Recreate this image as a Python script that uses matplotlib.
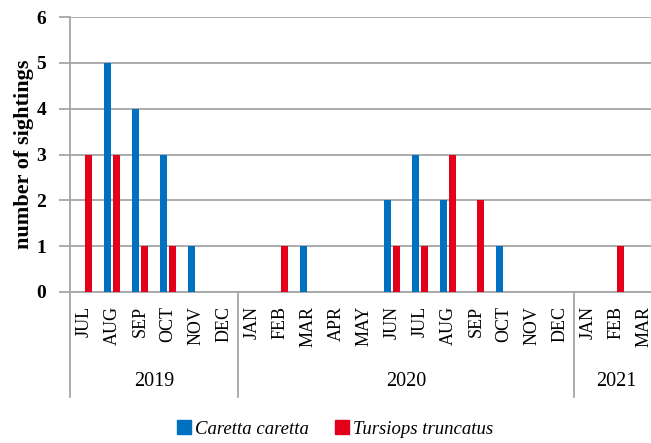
import matplotlib
matplotlib.use("Agg")
import matplotlib.pyplot as plt
import matplotlib.patches as mpatches
import matplotlib.transforms as mtransforms
import numpy as np

MONTHS = ["JUL", "AUG", "SEP", "OCT", "NOV", "DEC",
          "JAN", "FEB", "MAR", "APR", "MAY", "JUN",
          "JUL", "AUG", "SEP", "OCT", "NOV", "DEC",
          "JAN", "FEB", "MAR"]
YEARS = ["2019", "2020", "2021"]
YEAR_SPANS = [(0, 6), (6, 18), (18, 21)]  # month index ranges (start, end)

CARETTA = [0, 5, 4, 3, 1, 0, 0, 0, 1, 0, 0, 2, 3, 2, 0, 1, 0, 0, 0, 0, 0]
TURSIOPS = [3, 3, 1, 1, 0, 0, 0, 1, 0, 0, 0, 1, 1, 3, 2, 0, 0, 0, 0, 1, 0]

BLUE = "#0070C0"
RED = "#E2001A"
GRID = "#a6a6a6"
SERIF = ["Liberation Serif", "DejaVu Serif"]

W, H = 651, 443


def main():
    fig = plt.figure(figsize=(W / 100, H / 100), dpi=100)
    fig.patch.set_facecolor("white")
    # axes runs a little past the right edge, like the cropped original
    ax = fig.add_axes([70 / W, 151 / H, 588 / W, 275 / H])

    x = np.arange(len(MONTHS))
    bw = 0.24
    ax.bar(x - 0.165, CARETTA, bw, color=BLUE, zorder=3)
    ax.bar(x + 0.165, TURSIOPS, bw, color=RED, zorder=3)

    ax.set_xlim(-0.5, len(MONTHS) - 0.5)
    ax.set_ylim(0, 6)
    ax.set_yticks(range(7))
    ax.yaxis.grid(True, color=GRID, linewidth=1.3, zorder=0)
    ax.set_axisbelow(True)

    for side in ("top", "right"):
        ax.spines[side].set_visible(False)
    for side in ("left", "bottom"):
        ax.spines[side].set_color(GRID)
        ax.spines[side].set_linewidth(1.3)

    ax.tick_params(axis="y", length=8, width=1.3, color=GRID, pad=9)
    ax.tick_params(axis="x", length=0, pad=10)
    for lab in ax.get_yticklabels():
        lab.set_fontfamily(SERIF)
        lab.set_fontweight("bold")
        lab.set_fontsize(14)

    ax.set_xticks(x)
    ax.set_xticklabels(MONTHS, rotation=90, fontfamily=SERIF, fontsize=13,
                       va="top", ha="center")

    ax.set_ylabel("number of sightings", fontfamily=SERIF, fontweight="bold",
                  fontsize=16, labelpad=2)

    trans = mtransforms.blended_transform_factory(ax.transData, ax.transAxes)
    sep_bottom = -(397 - 292) / 275
    year_y = -(382 - 292) / 275
    for name, (a, b) in zip(YEARS, YEAR_SPANS):
        ax.plot([a - 0.5, a - 0.5], [0, sep_bottom], color=GRID, lw=1.3,
                transform=trans, clip_on=False)
        ax.text((a + b - 1) / 2, year_y, name, transform=trans, ha="center",
                va="center", fontfamily=SERIF, fontsize=14.5)

    handles = [mpatches.Patch(color=BLUE, label="Caretta caretta"),
               mpatches.Patch(color=RED, label="Tursiops truncatus")]
    fig.legend(handles=handles, loc="center", ncol=2, frameon=False,
               bbox_to_anchor=(335 / W, 1 - 429 / H),
               prop={"family": SERIF, "style": "italic", "size": 13.5},
               handlelength=0.75, handleheight=0.75, handletextpad=0.2,
               columnspacing=1.4)

    fig.savefig("out.png", dpi=100, facecolor="white")


if __name__ == "__main__":
    main()
